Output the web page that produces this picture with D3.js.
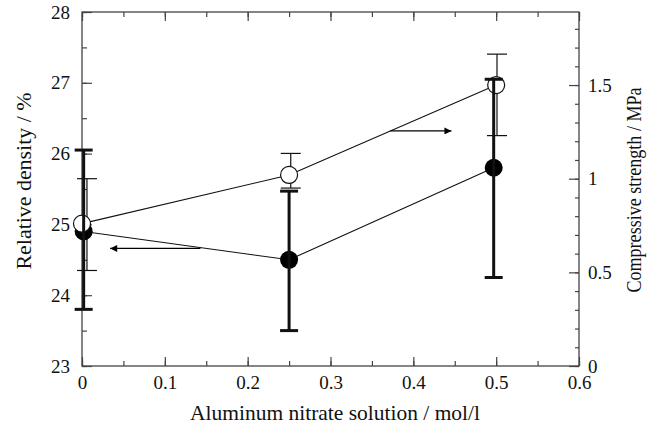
<!DOCTYPE html>
<html>
<head>
<meta charset="utf-8">
<script src="https://cdn.jsdelivr.net/npm/d3@7"></script>
<style>
html,body{margin:0;padding:0;background:#fff;}
svg text{font-family:"Liberation Serif","Times New Roman",serif;fill:#111;}
</style>
</head>
<body>
<svg id="chart" width="658" height="427"></svg>
<script>
// ---- data ----
const concentration = [0, 0.25, 0.5];              // mol/l
const densityX = [0.002, 0.25, 0.497];
const density = [24.9, 24.5, 25.8];                 // %
const densityHigh = [26.05, 25.47, 27.05];
const densityLow = [23.8, 23.5, 24.25];
const strengthX = [0, 0.25, 0.5];
const strengthErrX = [0.006, 0.252, 0.501];
const strength = [0.76, 1.02, 1.5];                 // MPa
const strengthHigh = [1.0, 1.135, 1.665];
const strengthLow = [0.51, 0.95, 1.23];
const xTicks = [0, 0.1, 0.2, 0.3, 0.4, 0.5, 0.6];
const leftTicks = [23, 24, 25, 26, 27, 28];
const rightTicks = [0, 0.5, 1, 1.5];

const svg = d3.select("#chart");
const L = 82, R = 579, T = 12, B = 366;
const x = d3.scaleLinear().domain([0, 0.6]).range([L, R]);
const yL = d3.scaleLinear().domain([23, 28]).range([B, T]);
const yR = d3.scaleLinear().domain([0, 1.89]).range([B, T]);
const axisColor = "#444";

// frame
svg.append("rect").attr("x", L).attr("y", T).attr("width", R - L).attr("height", B - T)
  .attr("fill", "none").attr("stroke", axisColor).attr("stroke-width", 1.3);

function styleAxis(g) {
  g.select(".domain").remove();
  g.selectAll("line").attr("stroke", axisColor).attr("stroke-width", 1.2);
  g.selectAll("text").style("font-size", "19px").attr("fill", "#111");
}
const fmt = d => d3.format("")(d);

// bottom axis (inner ticks)
const xMinor = d3.range(0, 0.6001, 0.05).map(v => +v.toFixed(2));
svg.append("g").attr("transform", `translate(0,${B})`)
  .call(d3.axisBottom(x).tickValues(xMinor).tickSize(-5).tickFormat(""))
  .call(styleAxis);
svg.append("g").attr("transform", `translate(0,${B})`)
  .call(d3.axisBottom(x).tickValues(xTicks).tickSize(-9).tickPadding(10).tickFormat(fmt))
  .call(styleAxis);
// top axis
svg.append("g").attr("transform", `translate(0,${T})`)
  .call(d3.axisTop(x).tickValues(xMinor).tickSize(-5).tickFormat(""))
  .call(styleAxis);
svg.append("g").attr("transform", `translate(0,${T})`)
  .call(d3.axisTop(x).tickValues(xTicks).tickSize(-9).tickFormat(""))
  .call(styleAxis);

// left axis
const lMinor = d3.range(23, 28.001, 0.5);
svg.append("g").attr("transform", `translate(${L},0)`)
  .call(d3.axisLeft(yL).tickValues(lMinor).tickSize(-5).tickFormat(""))
  .call(styleAxis);
svg.append("g").attr("transform", `translate(${L},0)`)
  .call(d3.axisLeft(yL).tickValues(leftTicks).tickSize(-10).tickPadding(12).tickFormat(fmt))
  .call(styleAxis);

// right axis
const rMinor = d3.range(0, 1.85, 0.1).map(v => +v.toFixed(1));
svg.append("g").attr("transform", `translate(${R},0)`)
  .call(d3.axisRight(yR).tickValues(rMinor).tickSize(-4).tickFormat(""))
  .call(styleAxis);
svg.append("g").attr("transform", `translate(${R},0)`)
  .call(d3.axisRight(yR).tickValues(rightTicks).tickSize(-10).tickPadding(9).tickFormat(fmt))
  .call(styleAxis);

// axis titles
svg.append("text").attr("x", 335).attr("y", 420).attr("text-anchor", "middle")
  .attr("textLength", 290).attr("lengthAdjust", "spacingAndGlyphs")
  .style("font-size", "21px").text("Aluminum nitrate solution / mol/l");
svg.append("text").attr("transform", "translate(31,181) rotate(-90)").attr("text-anchor", "middle")
  .attr("textLength", 177).attr("lengthAdjust", "spacingAndGlyphs")
  .style("font-size", "20px").text("Relative density / %");
svg.append("text").attr("transform", "translate(641,190) rotate(-90)").attr("text-anchor", "middle")
  .attr("textLength", 205).attr("lengthAdjust", "spacingAndGlyphs")
  .style("font-size", "20px").text("Compressive strength / MPa");

// lines
const densityPts = densityX.map((d, i) => [x(d), yL(density[i])]);
const strengthPts = strengthX.map((d, i) => [x(d), yR(strength[i])]);
const line = d3.line();
svg.append("path").attr("d", line(strengthPts)).attr("fill", "none").attr("stroke", "#111").attr("stroke-width", 1.1);
svg.append("path").attr("d", line(densityPts)).attr("fill", "none").attr("stroke", "#111").attr("stroke-width", 1.1);

// error bars: strength (thin)
strengthErrX.forEach((d, i) => {
  const cap = 10;
  const g = svg.append("g").attr("stroke", "#111").attr("stroke-width", 1.2);
  const cx = x(d);
  g.append("line").attr("x1", cx).attr("x2", cx).attr("y1", yR(strengthHigh[i])).attr("y2", yR(strengthLow[i]));
  g.append("line").attr("x1", cx - cap).attr("x2", cx + cap).attr("y1", yR(strengthHigh[i])).attr("y2", yR(strengthHigh[i]));
  g.append("line").attr("x1", cx - cap).attr("x2", cx + cap).attr("y1", yR(strengthLow[i])).attr("y2", yR(strengthLow[i]));
});

// markers
svg.selectAll("circle.dens").data(densityPts).join("circle").attr("class", "dens")
  .attr("cx", d => d[0]).attr("cy", d => d[1]).attr("r", 9).attr("fill", "#000");
svg.selectAll("circle.str").data(strengthPts).join("circle").attr("class", "str")
  .attr("cx", d => d[0]).attr("cy", d => d[1]).attr("r", 8.5)
  .attr("fill", "#fff").attr("stroke", "#111").attr("stroke-width", 1.2);

// error bars: density (thick)
densityX.forEach((d, i) => {
  const cap = 9;
  const g = svg.append("g").attr("stroke", "#111").attr("stroke-width", 3);
  const cx = x(d);
  g.append("line").attr("x1", cx).attr("x2", cx).attr("y1", yL(densityHigh[i])).attr("y2", yL(densityLow[i]));
  g.append("line").attr("x1", cx - cap).attr("x2", cx + cap).attr("y1", yL(densityHigh[i])).attr("y2", yL(densityHigh[i]));
  g.append("line").attr("x1", cx - cap).attr("x2", cx + cap).attr("y1", yL(densityLow[i])).attr("y2", yL(densityLow[i]));
});

// arrows
const defs = svg.append("defs");
defs.append("marker").attr("id", "ah").attr("viewBox", "0 0 10 10").attr("refX", 10).attr("refY", 5)
  .attr("markerWidth", 18).attr("markerHeight", 7).attr("markerUnits", "userSpaceOnUse").attr("orient", "auto")
  .append("path").attr("d", "M0,0 L10,5 L0,10 Z").attr("fill", "#000");
svg.append("line").attr("x1", x(0.143)).attr("x2", x(0.034)).attr("y1", yL(24.66)).attr("y2", yL(24.66))
  .attr("stroke", "#000").attr("stroke-width", 1.2).attr("marker-end", "url(#ah)");
svg.append("line").attr("x1", x(0.372)).attr("x2", x(0.446)).attr("y1", yR(1.255)).attr("y2", yR(1.255))
  .attr("stroke", "#000").attr("stroke-width", 1.2).attr("marker-end", "url(#ah)");
</script>
</body>
</html>
